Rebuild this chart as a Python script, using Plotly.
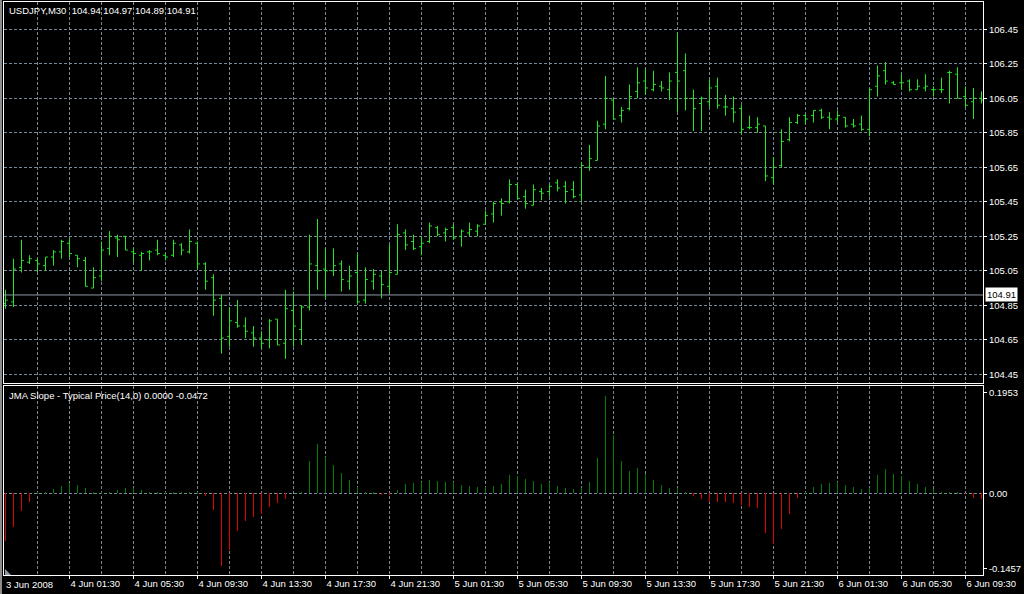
import pandas as pd
import plotly.graph_objects as go

# ---------------- data ----------------
start_time = "2008-06-03 21:30"

open_ = [104.86, 104.87, 105.07, 105.10, 105.11, 105.08, 105.13, 105.16, 105.21, 105.14,
         105.11, 104.95, 105.02, 105.18, 105.24, 105.25, 105.16, 105.14, 105.16, 105.17,
         105.14, 105.14, 105.20, 105.16, 105.21, 105.09, 105.01, 104.89, 104.67, 104.75,
         104.73, 104.69, 104.66, 104.65, 104.77, 104.63, 104.82, 104.71, 104.84, 105.08,
         105.06, 105.05, 105.09, 104.99, 105.04, 104.88, 104.99, 105.02, 104.96, 105.03,
         105.27, 105.22, 105.19, 105.22, 105.30, 105.27, 105.30, 105.25, 105.27, 105.28,
         105.32, 105.38, 105.45, 105.45, 105.55, 105.48, 105.43, 105.51, 105.51, 105.56,
         105.54, 105.52, 105.49, 105.65, 105.69, 105.90, 106.04, 105.95, 105.99, 106.09,
         106.15, 106.10, 106.12, 106.10, 106.20, 106.21, 106.05, 106.02, 106.03, 106.12,
         106.00, 105.99, 105.99, 105.88, 105.88, 105.89, 105.59, 105.66, 105.81, 105.91,
         105.95, 105.95, 105.98, 105.94, 105.93, 105.94, 105.90, 105.90, 105.87, 106.12,
         106.21, 106.14, 106.14, 106.15, 106.10, 106.11, 106.10, 106.10, 106.20, 106.19,
         106.06, 106.03, 106.05]

high = [104.94, 105.12, 105.23, 105.14, 105.12, 105.13, 105.17, 105.23, 105.24, 105.14,
        105.13, 105.07, 105.22, 105.28, 105.26, 105.25, 105.18, 105.16, 105.17, 105.23,
        105.15, 105.23, 105.21, 105.29, 105.22, 105.10, 105.03, 104.91, 104.84, 104.88,
        104.78, 104.73, 104.70, 104.77, 104.77, 104.94, 104.93, 104.85, 105.26, 105.35,
        105.18, 105.18, 105.11, 105.08, 105.15, 105.07, 105.06, 105.05, 105.20, 105.32,
        105.29, 105.26, 105.25, 105.33, 105.31, 105.30, 105.32, 105.29, 105.33, 105.32,
        105.40, 105.45, 105.47, 105.58, 105.56, 105.52, 105.55, 105.53, 105.55, 105.58,
        105.57, 105.57, 105.68, 105.78, 105.92, 106.18, 106.05, 106.00, 106.13, 106.23,
        106.22, 106.21, 106.15, 106.20, 106.43, 106.31, 106.10, 106.06, 106.16, 106.17,
        106.07, 106.06, 106.01, 105.95, 105.94, 105.89, 105.71, 105.87, 105.94, 105.96,
        105.96, 105.98, 105.99, 105.97, 105.98, 105.94, 105.93, 105.95, 106.11, 106.24,
        106.26, 106.15, 106.19, 106.16, 106.16, 106.19, 106.12, 106.17, 106.21, 106.23,
        106.12, 106.11, 106.09]

low = [104.83, 104.84, 105.04, 105.09, 105.04, 105.05, 105.08, 105.12, 105.13, 105.07,
       104.96, 104.95, 104.99, 105.14, 105.13, 105.17, 105.10, 105.05, 105.11, 105.14,
       105.11, 105.13, 105.14, 105.15, 105.06, 104.94, 104.79, 104.57, 104.61, 104.72,
       104.66, 104.61, 104.60, 104.60, 104.62, 104.54, 104.61, 104.62, 104.82, 104.94,
       104.89, 105.02, 104.93, 104.94, 104.86, 104.86, 104.94, 104.89, 104.92, 105.03,
       105.17, 105.17, 105.14, 105.21, 105.25, 105.22, 105.23, 105.19, 105.25, 105.25,
       105.32, 105.33, 105.37, 105.44, 105.47, 105.41, 105.43, 105.46, 105.48, 105.51,
       105.44, 105.47, 105.45, 105.63, 105.69, 105.87, 105.93, 105.91, 105.98, 106.05,
       106.07, 106.09, 106.09, 106.04, 105.97, 105.98, 105.86, 105.86, 106.00, 105.99,
       105.95, 105.91, 105.84, 105.87, 105.85, 105.57, 105.55, 105.65, 105.80, 105.90,
       105.90, 105.91, 105.93, 105.87, 105.91, 105.88, 105.88, 105.86, 105.83, 106.06,
       106.13, 106.13, 106.10, 106.09, 106.10, 106.09, 106.06, 106.08, 106.02, 106.05,
       106.00, 105.93, 106.02]

close = [104.88, 105.06, 105.11, 105.12, 105.09, 105.13, 105.16, 105.22, 105.15, 105.12,
         104.96, 105.01, 105.17, 105.25, 105.23, 105.17, 105.15, 105.15, 105.16, 105.15,
         105.13, 105.21, 105.17, 105.22, 105.09, 104.99, 104.88, 104.66, 104.76, 104.73,
         104.70, 104.66, 104.63, 104.76, 104.62, 104.83, 104.73, 104.84, 105.09, 105.05,
         105.05, 105.08, 105.00, 105.02, 104.87, 105.00, 105.03, 104.97, 105.04, 105.26,
         105.20, 105.18, 105.21, 105.31, 105.26, 105.29, 105.24, 105.28, 105.29, 105.31,
         105.37, 105.44, 105.44, 105.55, 105.47, 105.44, 105.52, 105.50, 105.54, 105.53,
         105.51, 105.48, 105.66, 105.70, 105.89, 106.05, 105.93, 105.98, 106.06, 106.14,
         106.11, 106.13, 106.11, 106.15, 106.15, 106.05, 105.99, 106.05, 106.11, 106.01,
         106.00, 105.97, 105.87, 105.88, 105.90, 105.60, 105.65, 105.80, 105.91, 105.95,
         105.93, 105.98, 105.94, 105.93, 105.95, 105.89, 105.89, 105.87, 106.10, 106.18,
         106.15, 106.13, 106.14, 106.10, 106.12, 106.12, 106.10, 106.10, 106.20, 106.05,
         106.01, 106.05, 106.04]

jma_slope = [-0.093, -0.064, -0.034, -0.017, 0.001, 0.003, 0.009, 0.015, 0.021, 0.017,
             0.011, 0.003, 0.001, 0.003, 0.007, 0.011, 0.010, 0.007, 0.003, 0.003,
             0.001, 0.002, 0.002, 0.003, 0.001, -0.004, -0.032, -0.140, -0.110, -0.072,
             -0.053, -0.046, -0.040, -0.026, -0.018, -0.010, 0.000, 0.002, 0.062, 0.096,
             0.071, 0.055, 0.040, 0.026, 0.013, 0.003, 0.001, -0.003, -0.003, 0.007,
             0.018, 0.020, 0.022, 0.026, 0.024, 0.022, 0.022, 0.017, 0.015, 0.013,
             0.013, 0.015, 0.018, 0.036, 0.034, 0.028, 0.024, 0.018, 0.022, 0.015,
             0.011, 0.009, 0.011, 0.022, 0.069, 0.189, 0.113, 0.063, 0.044, 0.049,
             0.038, 0.026, 0.017, 0.011, 0.011, 0.003, -0.004, -0.011, -0.017, -0.017,
             -0.017, -0.018, -0.022, -0.026, -0.028, -0.077, -0.097, -0.069, -0.040, -0.009,
             0.002, 0.013, 0.018, 0.020, 0.022, 0.017, 0.013, 0.009, 0.011, 0.036,
             0.048, 0.038, 0.033, 0.024, 0.018, 0.013, 0.009, 0.003, 0.002, 0.001,
             -0.001, -0.008, -0.010]

time_labels = ["4 Jun 01:30", "4 Jun 05:30", "4 Jun 09:30", "4 Jun 13:30", "4 Jun 17:30",
               "4 Jun 21:30", "5 Jun 01:30", "5 Jun 05:30", "5 Jun 09:30", "5 Jun 13:30",
               "5 Jun 17:30", "5 Jun 21:30", "6 Jun 01:30", "6 Jun 05:30", "6 Jun 09:30"]
first_label = "3 Jun 2008"
price_ticks = [104.45, 104.65, 104.85, 105.05, 105.25, 105.45, 105.65, 105.85, 106.05, 106.25, 106.45]
ind_ticks = [0.1953, 0.0, -0.1457]
ind_tick_text = ["0.1953", "0.00", "-0.1457"]
last_price = 104.91
title_main = "USDJPY,M30\u00a0\u00a0104.94 104.97 104.89 104.91"
title_ind = "JMA Slope - Typical Price(14,0) 0.0000 -0.0472"

# ---------------- derived ----------------
times = pd.date_range(start_time, periods=len(close), freq="30min")
bar = pd.Timedelta(minutes=30)
label_times = [times[0] + bar * 8 * (i + 1) for i in range(len(time_labels))]
grid_times = [times[0] + bar * (4 + 8 * i) for i in range(len(time_labels))]

W, H = 1024, 594
GRID = "#778899"
FONT = dict(family="Liberation Sans, Arial, sans-serif", size=9.5, color="white")

x_range = [times[0] - bar * 0.1875, times[0] + bar * 122.1875]
main_dom = [(H - 383) / H, (H - 2) / H]
ind_dom = [(H - 575) / H, (H - 386) / H]
x_dom = [4 / W, 983 / W]

fig = go.Figure()

fig.add_trace(go.Ohlc(
    x=times, open=open_, high=high, low=low, close=close,
    increasing=dict(line=dict(color="#22e622", width=1)),
    decreasing=dict(line=dict(color="#22e622", width=1)),
    tickwidth=0.3, xaxis="x", yaxis="y", showlegend=False, hoverinfo="skip",
))

bar_colors = ["#008000" if v >= 0 else "#e00000" for v in jma_slope]
fig.add_trace(go.Bar(
    x=times, y=jma_slope, width=bar.total_seconds() * 1000 / 8,
    marker=dict(color=bar_colors, line=dict(width=0)),
    xaxis="x2", yaxis="y2", showlegend=False, hoverinfo="skip",
))

common_x = dict(
    type="date", range=x_range, domain=x_dom, automargin=False,
    showline=True, mirror=True, linecolor="white", linewidth=1,
    showgrid=True, gridcolor=GRID, griddash="3px,2px", gridwidth=1,
    rangeslider=dict(visible=False), fixedrange=True,
    minor=dict(tickvals=grid_times, showgrid=True, gridcolor=GRID,
               griddash="3px,2px", gridwidth=1, ticks=""),
    tickvals=label_times, tickfont=FONT,
)

fig.update_layout(
    width=W, height=H,
    margin=dict(l=0, r=0, t=0, b=0, autoexpand=False),
    paper_bgcolor="black", plot_bgcolor="black",
    bargap=0, showlegend=False,
    xaxis=dict(**common_x, anchor="y", showticklabels=False, ticks=""),
    xaxis2=dict(**common_x, anchor="y2", matches="x", ticktext=time_labels,
                ticks="outside", ticklen=3, tickcolor="white",
                ticklabelposition="outside right", showticklabels=True),
    yaxis=dict(
        domain=main_dom, range=[104.3996, 106.6083], side="right", automargin=False,
        tickvals=price_ticks, tickformat=".2f", tickfont=FONT,
        ticks="outside", ticklen=3, tickcolor="white",
        showgrid=True, gridcolor=GRID, griddash="3px,2px", gridwidth=1,
        showline=True, mirror=True, linecolor="white", linewidth=1,
        zeroline=False, fixedrange=True,
    ),
    yaxis2=dict(
        domain=ind_dom, range=[-0.158, 0.2083], side="right", anchor="x2", automargin=False,
        tickvals=ind_ticks, ticktext=ind_tick_text, tickfont=FONT,
        ticks="outside", ticklen=3, tickcolor="white",
        showgrid=False, zeroline=False,
        minor=dict(tickvals=[0.0], showgrid=True, gridcolor=GRID,
                   griddash="3px,2px", gridwidth=1, ticks=""),
        showline=True, mirror=True, linecolor="white", linewidth=1,
        fixedrange=True,
    ),
)

# current price line and label
fig.add_shape(type="line", xref="x domain", yref="y", x0=0, x1=1,
              y0=last_price, y1=last_price, line=dict(color="#8e98a4", width=1))
fig.add_annotation(xref="paper", yref="y", x=985 / W, y=last_price,
                   xanchor="left", yanchor="middle", text=f"{last_price:.2f}",
                   showarrow=False, bgcolor="white", borderpad=1,
                   font=dict(family=FONT["family"], size=9.5, color="black"))

# titles
fig.add_annotation(xref="paper", yref="paper", x=7 / W, y=(H - 10) / H,
                   xanchor="left", yanchor="middle", text=title_main,
                   showarrow=False, font=FONT)
fig.add_annotation(xref="paper", yref="paper", x=7 / W, y=(H - 395) / H,
                   xanchor="left", yanchor="middle", text=title_ind,
                   showarrow=False, font=FONT)
# first time label
fig.add_annotation(xref="x2", yref="paper", x=times[0], y=(H - 584) / H,
                   xanchor="left", yanchor="middle", text=first_label,
                   showarrow=False, font=FONT, xshift=-2)

# window frame strip at the very left and the chart-shift marker
fig.add_shape(type="rect", xref="paper", yref="paper", x0=0, x1=2 / W, y0=0, y1=1,
              fillcolor="#8c8c8c", line=dict(width=0), layer="above")
fig.add_shape(type="path", xref="paper", yref="paper",
              path=f"M {5/W},{(H-569)/H} L {5/W},{(H-575)/H} L {11/W},{(H-575)/H} Z",
              fillcolor="#8c99a6", line=dict(width=0), layer="above")

# remove the default page margin so the 1024x594 figure fills the window exactly
fig.write_html("out.html", config={"displayModeBar": False},
               post_script="document.body.style.margin='0px';")
